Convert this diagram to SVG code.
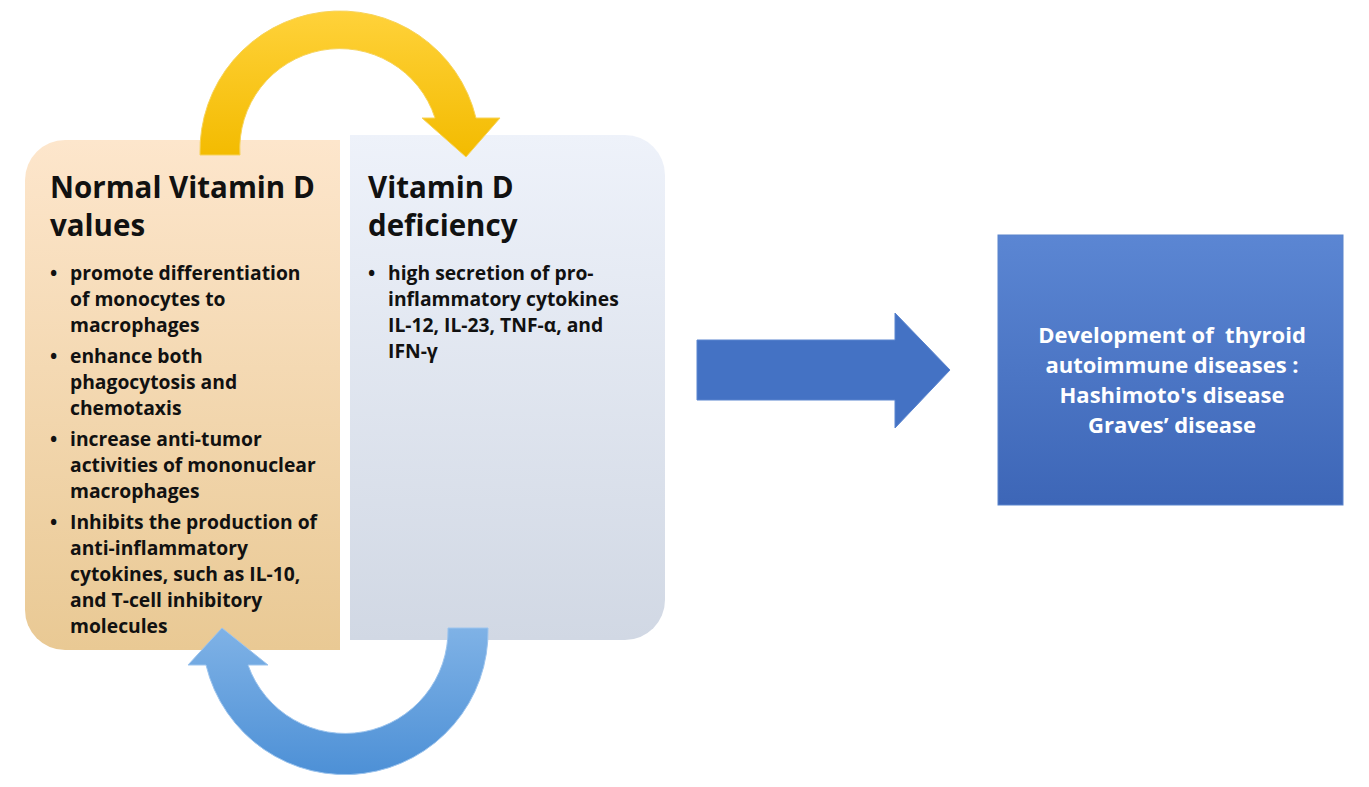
<svg xmlns="http://www.w3.org/2000/svg" width="1369" height="787" viewBox="0 0 1369 787">
<defs>
<linearGradient id="gL" x1="0" y1="0" x2="0" y2="1"><stop offset="0" stop-color="#fde6cc"/><stop offset="1" stop-color="#e9c994"/></linearGradient>
<linearGradient id="gR" x1="0" y1="0" x2="0" y2="1"><stop offset="0" stop-color="#eef2fa"/><stop offset="1" stop-color="#d1d8e4"/></linearGradient>
<linearGradient id="gY" x1="0" y1="0" x2="0" y2="1"><stop offset="0" stop-color="#ffd23a"/><stop offset="1" stop-color="#f3bb00"/></linearGradient>
<linearGradient id="gB" x1="0" y1="0" x2="0" y2="1"><stop offset="0" stop-color="#7fb2e6"/><stop offset="1" stop-color="#4d90d6"/></linearGradient>
<linearGradient id="gD" x1="0" y1="0" x2="0" y2="1"><stop offset="0" stop-color="#5b86d3"/><stop offset="1" stop-color="#3d66b7"/></linearGradient>
<style>
.t{font-family:"Open Sans","Liberation Sans",sans-serif;font-weight:bold;fill:#111}
.h{font-size:29.5px}
.b{font-size:19.3px}
.w{font-family:"Open Sans","Liberation Sans",sans-serif;font-weight:bold;fill:#fff;font-size:22px;text-anchor:middle;white-space:pre}
</style>
</defs>
<g id="normal">
<path d="M65 140 H340 V650 H65 A40 40 0 0 1 25 610 V180 A40 40 0 0 1 65 140 Z" fill="url(#gL)"/>
<text class="t h" x="50" y="198">Normal Vitamin D</text>
<text class="t h" x="50" y="236">values</text>
<g class="t b">
<text x="50" y="280">•</text><text x="70" y="280">promote differentiation</text>
<text x="70" y="306">of monocytes to</text>
<text x="70" y="332">macrophages</text>
<text x="50" y="363">•</text><text x="70" y="363"> enhance both</text>
<text x="70" y="389">phagocytosis and</text>
<text x="70" y="415">chemotaxis</text>
<text x="50" y="446">•</text><text x="70" y="446">increase anti-tumor</text>
<text x="70" y="472">activities of mononuclear</text>
<text x="70" y="498">macrophages</text>
<text x="50" y="529">•</text><text x="70" y="529">Inhibits the production of</text>
<text x="70" y="555">anti-inflammatory</text>
<text x="70" y="581">cytokines, such as IL-10,</text>
<text x="70" y="607">and T-cell inhibitory</text>
<text x="70" y="633">molecules</text>
</g>
</g>
<g id="deficiency">
<path d="M350 135 H625 A40 40 0 0 1 665 175 V600 A40 40 0 0 1 625 640 H350 Z" fill="url(#gR)"/>
<text class="t h" x="368" y="198">Vitamin D</text>
<text class="t h" x="368" y="236">deficiency</text>
<g class="t b">
<text x="368" y="280">•</text><text x="388" y="280">high secretion of pro-</text>
<text x="388" y="306">inflammatory cytokines</text>
<text x="388" y="332">IL-12, IL-23, TNF-α, and</text>
<text x="388" y="358">IFN-γ</text>
</g>
</g>
<g id="outcome">
<rect x="998" y="235" width="345" height="270" fill="url(#gD)" stroke="#5a84cc"/>
<text class="w" x="1172" y="343" xml:space="preserve">Development of  thyroid</text>
<text class="w" x="1172" y="373">autoimmune diseases :</text>
<text class="w" x="1172" y="403">Hashimoto's disease</text>
<text class="w" x="1172" y="433">Graves’ disease</text>
</g>
<g id="connectors">
<path d="M200 155 A140 140 0 0 1 476 118 L500 118 L466 157 L422 118 L435 118 A100 100 0 0 0 240 155 Z" fill="url(#gY)" stroke="#f7d35a" stroke-width="1"/>
<path d="M488 628 A143 143 0 0 1 206 665 L188 665 L222 628 L268 665 L248 665 A103 103 0 0 0 448 628 Z" fill="url(#gB)" stroke="#9cc4ee" stroke-width="1"/>
<path d="M697 340 H895 V313 L950 370 L895 428 V400 H697 Z" fill="#4472c4" stroke="#5b85cf"/>
</g>
</svg>
